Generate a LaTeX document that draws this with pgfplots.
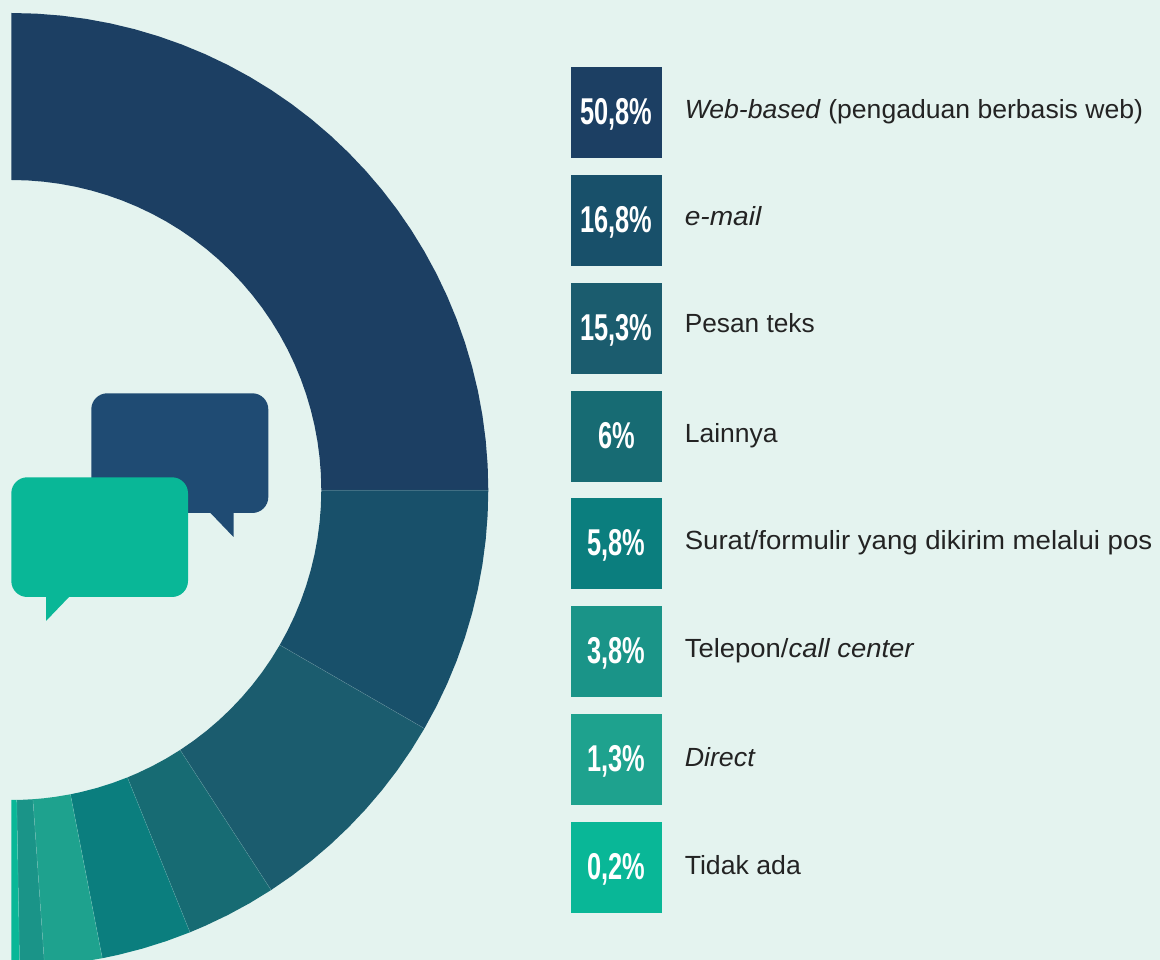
\documentclass[border=0pt]{standalone}
\usepackage{graphicx}
\usepackage{fontspec}
\setmainfont{Liberation Sans}
\usepackage{pgfplots}
\pgfplotsset{compat=1.18}
\definecolor{bg}{HTML}{E4F3EF}
\definecolor{cA}{HTML}{1C3F63}
\definecolor{cB}{HTML}{18506A}
\definecolor{cC}{HTML}{1B5C6E}
\definecolor{cD}{HTML}{176B73}
\definecolor{cE}{HTML}{0B7E7E}
\definecolor{cF}{HTML}{1A9488}
\definecolor{cG}{HTML}{1EA28E}
\definecolor{cH}{HTML}{09B797}
\definecolor{bubble}{HTML}{1F4B73}
\definecolor{txt}{HTML}{232323}
\newcommand{\pct}[2]{\node[anchor=base,inner sep=0pt,text=white] at (axis cs:605.2,#1) {\scalebox{0.68}[1]{\fontsize{28}{30}\selectfont\bfseries #2}};}
\newcommand{\lab}[3]{\node[anchor=base west,inner sep=0pt,text=txt] at (axis cs:673.2,#1) {\scalebox{#2}[1]{\fontsize{19.7}{24}\selectfont #3}};}
\begin{document}
\begin{tikzpicture}
\fill[bg] (0,0) rectangle (870pt,720pt);
\begin{axis}[at={(0,0)},anchor=south west,scale only axis,width=870pt,height=720pt,
  xmin=-11.3,xmax=1148.7,ymin=-470,ymax=490,hide axis]
% ring segments (angle, radius)
\addplot[fill=cA,draw=none,data cs=polar] coordinates {(90,477)(87,477)(84,477)(81,477)(78,477)(75,477)(72,477)(69,477)(66,477)(63,477)(60,477)(57,477)(54,477)(51,477)(48,477)(45,477)(42,477)(39,477)(36,477)(33,477)(30,477)(27,477)(24,477)(21,477)(18,477)(15,477)(12,477)(9,477)(6,477)(3,477)(0,477)
(0,310)(3,310)(6,310)(9,310)(12,310)(15,310)(18,310)(21,310)(24,310)(27,310)(30,310)(33,310)(36,310)(39,310)(42,310)(45,310)(48,310)(51,310)(54,310)(57,310)(60,310)(63,310)(66,310)(69,310)(72,310)(75,310)(78,310)(81,310)(84,310)(87,310)(90,310)};
\addplot[fill=cB,draw=none,data cs=polar] coordinates {(0,477)(-3,477)(-6,477)(-9,477)(-12,477)(-15,477)(-18,477)(-21,477)(-24,477)(-27,477)(-30,477)
(-30,310)(-27,310)(-24,310)(-21,310)(-18,310)(-15,310)(-12,310)(-9,310)(-6,310)(-3,310)(0,310)};
\addplot[fill=cC,draw=none,data cs=polar] coordinates {(-30,477)(-33,477)(-36,477)(-39,477)(-42,477)(-45,477)(-48,477)(-51,477)(-54,477)(-57,477)
(-57,310)(-54,310)(-51,310)(-48,310)(-45,310)(-42,310)(-39,310)(-36,310)(-33,310)(-30,310)};
\addplot[fill=cD,draw=none,data cs=polar] coordinates {(-57,477)(-60,477)(-63,477)(-66,477)(-68,477)
(-68,310)(-66,310)(-63,310)(-60,310)(-57,310)};
\addplot[fill=cE,draw=none,data cs=polar] coordinates {(-68,477)(-71,477)(-74,477)(-77,477)(-79,477)
(-79,310)(-77,310)(-74,310)(-71,310)(-68,310)};
\addplot[fill=cG,draw=none,data cs=polar] coordinates {(-79,477)(-82,477)(-84,477)(-86,477)
(-86,310)(-84,310)(-82,310)(-79,310)};
\addplot[fill=cF,draw=none,data cs=polar] coordinates {(-86,477)(-88,477)(-89,477)
(-89,310)(-88,310)(-86,310)};
\addplot[fill=cH,draw=none,data cs=polar] coordinates {(-89,477)(-90,477)(-90,310)(-89,310)};
% thin separators
\addplot[white,opacity=0.18,line width=0.4pt,data cs=polar] coordinates {(0,310)(0,477)};
\addplot[white,opacity=0.18,line width=0.4pt,data cs=polar] coordinates {(-30,310)(-30,477)};
\addplot[white,opacity=0.18,line width=0.4pt,data cs=polar] coordinates {(-57,310)(-57,477)};
\addplot[white,opacity=0.18,line width=0.4pt,data cs=polar] coordinates {(-68,310)(-68,477)};
\addplot[white,opacity=0.18,line width=0.4pt,data cs=polar] coordinates {(-79,310)(-79,477)};
\addplot[white,opacity=0.18,line width=0.4pt,data cs=polar] coordinates {(-86,310)(-86,477)};
\addplot[white,opacity=0.18,line width=0.4pt,data cs=polar] coordinates {(-89,310)(-89,477)};
% legend squares
\addplot[fill=cA,draw=none] coordinates {(559.7,423)(650.7,423)(650.7,332)(559.7,332)};
\addplot[fill=cB,draw=none] coordinates {(559.7,315)(650.7,315)(650.7,224)(559.7,224)};
\addplot[fill=cC,draw=none] coordinates {(559.7,207)(650.7,207)(650.7,116)(559.7,116)};
\addplot[fill=cD,draw=none] coordinates {(559.7,99)(650.7,99)(650.7,8)(559.7,8)};
\addplot[fill=cE,draw=none] coordinates {(559.7,-8)(650.7,-8)(650.7,-99)(559.7,-99)};
\addplot[fill=cF,draw=none] coordinates {(559.7,-116)(650.7,-116)(650.7,-207)(559.7,-207)};
\addplot[fill=cG,draw=none] coordinates {(559.7,-224)(650.7,-224)(650.7,-315)(559.7,-315)};
\addplot[fill=cH,draw=none] coordinates {(559.7,-332)(650.7,-332)(650.7,-423)(559.7,-423)};
% speech bubbles
\fill[bubble,rounded corners=12pt] (axis cs:80,96.7) rectangle (axis cs:257,-23);
\fill[bubble] (axis cs:198.7,-22.5) -- (axis cs:222.2,-47) -- (axis cs:222.2,-22.5) -- cycle;
\fill[cH,rounded corners=12pt] (axis cs:0,12.7) rectangle (axis cs:176.7,-107);
\fill[cH] (axis cs:34.7,-106.5) -- (axis cs:34.7,-131) -- (axis cs:58.2,-106.5) -- cycle;
% texts
\pct{365.5}{50,8\%}\pct{257.5}{16,8\%}\pct{149.5}{15,3\%}\pct{41.5}{6\%}
\pct{-65.5}{5,8\%}\pct{-173.5}{3,8\%}\pct{-281.5}{1,3\%}\pct{-389.5}{0,2\%}
\lab{371}{1.012}{\textit{Web-based} (pengaduan berbasis web)}
\lab{264}{1.07}{\textit{e-mail}}
\lab{157}{1.0}{Pesan teks}
\lab{47}{1.01}{Lainnya}
\lab{-60}{1.05}{Surat/formulir yang dikirim melalui pos}
\lab{-168}{1.045}{Telepon/\textit{call center}}
\lab{-277}{1.02}{\textit{Direct}}
\lab{-385}{1.015}{Tidak ada}
\end{axis}
\end{tikzpicture}
\end{document}
